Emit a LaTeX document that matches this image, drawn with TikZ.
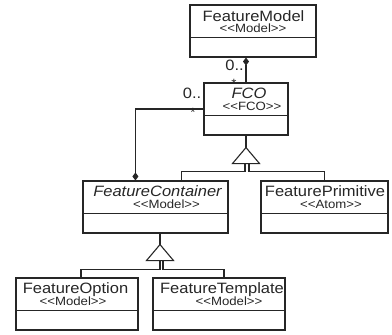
\documentclass[tikz,border=0pt]{standalone}
\usepackage{fontspec}
\setmainfont{Liberation Sans}[FakeStretch=1.1]
\usetikzlibrary{arrows.meta,calc}
% stereotype brackets, kept apart so they stay as angle brackets
\newcommand\stereo[1]{\textless\kern0pt\textless#1\textgreater\kern0pt\textgreater}
\begin{document}
\begin{tikzpicture}[x=1pt,y=-1pt,line width=1.1pt,color=black!85,
  cls/.style={draw,minimum height=52pt,inner sep=0pt},
  nm/.style={anchor=base,inner sep=0pt,font=\fontsize{15}{15}\selectfont},
  st/.style={anchor=base,inner sep=0pt,font=\fontsize{12}{12}\selectfont},
  mult/.style={anchor=base,inner sep=0pt,font=\fontsize{15}{15}\selectfont},
  star/.style={anchor=base,inner sep=0pt,font=\fontsize{12}{12}\selectfont},
  comp/.style={-{Diamond[length=8pt,width=6pt]}},
  gen/.style={fill=white}]
\useasboundingbox (0,0) rectangle (392,335);

% class boxes
\node[cls,minimum width=126pt] (fm)  at (253,31)    {};
\node[cls,minimum width=84pt]  (fco) at (246,109)   {};
\node[cls,minimum width=145pt] (fc)  at (155.5,207) {};
\node[cls,minimum width=127pt] (fp)  at (324.5,207) {};
\node[cls,minimum width=122pt] (fo)  at (77,304)    {};
\node[cls,minimum width=132pt] (ft)  at (219,304)   {};

% compartment dividers
\foreach \n in {fm,fco,fc,fp,fo,ft}
  \draw ($(\n.north west)+(0,33)$) -- ($(\n.north east)+(0,33)$);

% class names and stereotypes
\node[nm] (fmN)  at (253.5,21)  {FeatureModel};
\node[st] (fmS)  at (253,32.5)  {\stereo{Model}};
\node[nm,font=\fontsize{15}{15}\selectfont\itshape] (fcoN) at (249,98) {FCO};
\node[st] (fcoS) at (252,110)   {\stereo{FCO}};
\node[nm,font=\fontsize{15}{15}\selectfont\itshape] (fcN) at (157.5,196) {FeatureContainer};
\node[st] (fcS)  at (166.5,208) {\stereo{Model}};
\node[nm] (fpN)  at (325,196)   {FeaturePrimitive};
\node[st] (fpS)  at (331,208)   {\stereo{Atom}};
\node[nm] (foN)  at (75.5,293)  {FeatureOption};
\node[st] (foS)  at (73,305)    {\stereo{Model}};
\node[nm] (ftN)  at (222,293)   {FeatureTemplate};
\node[st] (ftS)  at (229,305)   {\stereo{Model}};

% compositions
\draw[comp] (fco.north) -- (fco.north |- fm.south);
\draw[comp] (fco.west) -| ($(fc.north west)+(53,0)$);

% multiplicities
\node[mult] (m1) at (234.5,70) {0..};
\node[star] (s1) at (234,87)   {*};
\node[mult] (m2) at (192,98)   {0..};
\node[star] (s2) at (193,116)  {*};

% generalization FCO <- FeatureContainer, FeaturePrimitive
\coordinate (g1) at ($(fco.south)+(0,28)$);
\draw (fco.south) -- ($(g1)+(0,-16)$);
\draw[gen] ($(g1)+(0,-16)$) -- ($(g1)+(13.5,0)$) -- ($(g1)+(-13.5,0)$) -- cycle;
\draw ($(g1)+(-1,0)$) -- ++(0,8) -| ($(fc.north west)+(99,0)$);
\draw ($(g1)+(3,0)$) -- ++(0,8) -| (fp.north);

% generalization FeatureContainer <- FeatureOption, FeatureTemplate
\coordinate (g2) at ($(fc.south)+(4.5,27)$);
\draw ($(fc.south)+(4.5,0)$) -- ($(g2)+(0,-16)$);
\draw[gen] ($(g2)+(0,-16)$) -- ($(g2)+(13.5,0)$) -- ($(g2)+(-13.5,0)$) -- cycle;
\draw (g2) -- ++(0,9) -| ($(fo.north)+(4,0)$);
\draw ($(g2)+(3,0)$) -- ++(0,9) -| ($(ft.north)+(5,0)$);
\end{tikzpicture}
\end{document}
